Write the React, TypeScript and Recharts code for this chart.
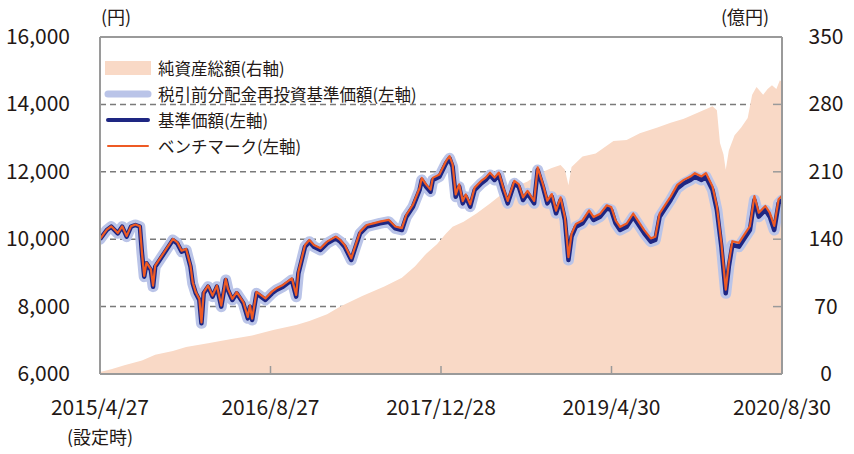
import React from 'react';
import {
  ComposedChart, Area, Line, XAxis, YAxis, CartesianGrid, ReferenceLine, Legend,
} from 'recharts';

// x positions: months elapsed since 2015/4/27 (設定日)
const xTickMonths = [0, 16, 32, 48, 64];
const xTickLabels = ['2015/4/27', '2016/8/27', '2017/12/28', '2019/4/30', '2020/8/30'];
const leftTicks = [6000, 8000, 10000, 12000, 14000, 16000];
const rightTicks = [0, 70, 140, 210, 280, 350];

const navMonths = [
  0, 0.64, 1.05, 1.67, 2.08, 2.5, 2.91, 3.32, 3.74, 3.94, 4.15, 4.36, 4.77, 4.98, 5.18, 5.6, 6.22, 6.84, 7.25, 7.66,
  8.08, 8.49, 8.7, 8.99, 9.32, 9.52, 9.73, 10.14, 10.56, 10.97, 11.38, 11.8, 12.01, 12.42, 12.83, 13.45, 13.87, 14.07, 14.28, 14.69,
  15.11, 15.52, 16.14, 16.55, 17.17, 18.0, 18.41, 18.62, 19.24, 19.65, 20.07, 20.69, 21.31, 22.13, 22.55, 22.96, 23.58, 23.99, 24.41, 25.03,
  25.65, 26.27, 27.09, 27.71, 28.33, 28.75, 29.37, 29.99, 30.19, 30.61, 31.02, 31.23, 31.85, 32.47, 32.8, 33.09, 33.38, 33.71, 34.04, 34.33,
  34.74, 35.16, 35.77, 36.19, 36.6, 37.02, 37.43, 37.84, 38.26, 38.88, 39.29, 39.7, 40.12, 40.74, 41.07, 41.56, 41.98, 42.39, 42.8, 43.22,
  43.63, 43.96, 44.25, 44.66, 45.28, 45.9, 46.32, 46.94, 47.56, 47.97, 48.38, 48.8, 49.42, 50.04, 50.45, 51.07, 51.69, 52.11, 52.52, 52.93,
  53.55, 54.17, 54.79, 55.41, 55.83, 56.45, 56.86, 57.48, 57.89, 58.31, 58.72, 59.01, 59.34, 59.96, 60.37, 60.99, 61.41, 61.82, 62.44, 62.85,
  63.27, 63.68, 64,
];

// 基準価額 (円)
const navValues = [
  10000, 10273, 10372, 10174, 10372, 10075, 10372, 10421, 10372, 9581, 8889, 9284, 9086, 8592, 9185, 9383, 9680, 9976, 9877, 9630,
  9680, 9185, 8691, 8394, 8196, 7504, 8394, 8592, 8295, 8592, 7998, 8790, 8493, 8196, 8394, 8097, 7652, 7998, 7603, 8394,
  8295, 8196, 8394, 8493, 8592, 8790, 8295, 8987, 9779, 9927, 9779, 9680, 9877, 10026, 9927, 9779, 9383, 9779, 10174, 10372,
  10421, 10471, 10520, 10323, 10273, 10669, 10965, 11460, 11757, 11559, 11410, 11757, 11856, 12251, 12399, 12152, 11262, 11559, 11064, 11262,
  10965, 11460, 11658, 11757, 11905, 11757, 11905, 11460, 11064, 11658, 11559, 11163, 11361, 11064, 12053, 11559, 11064, 11262, 10768, 11163,
  10570, 9383, 10075, 10372, 10471, 10768, 10570, 10669, 10916, 10867, 10471, 10273, 10372, 10669, 10471, 10174, 9927, 9976, 10669, 10867,
  11163, 11509, 11658, 11757, 11856, 11757, 11856, 11460, 10867, 9779, 8394, 9185, 9828, 9779, 9976, 10273, 11163, 10669, 10867, 10669,
  10273, 11064, 11163,
];

// 税引前分配金再投資基準価額 (円) — no distributions paid, identical to 基準価額
const reinvestValues = navValues;

// ベンチマーク (円)
const benchValues = [
  10000, 10283, 10382, 10184, 10382, 10090, 10387, 10436, 10387, 9596, 8910, 9305, 9110, 8620, 9215, 9413, 9710, 10006, 9907, 9660,
  9710, 9215, 8721, 8424, 8226, 7534, 8424, 8622, 8325, 8622, 8030, 8822, 8525, 8230, 8430, 8135, 7690, 8038, 7643, 8435,
  8340, 8243, 8444, 8543, 8642, 8840, 8345, 9037, 9829, 9977, 9829, 9730, 9927, 10076, 9977, 9829, 9433, 9829, 10224, 10422,
  10471, 10521, 10575, 10378, 10330, 10726, 11025, 11520, 11817, 11620, 11472, 11820, 11920, 12315, 12465, 12218, 11330, 11627, 11132, 11330,
  11035, 11530, 11728, 11827, 11975, 11827, 11977, 11532, 11136, 11732, 11633, 11238, 11436, 11140, 12130, 11636, 11142, 11340, 10848, 11243,
  10652, 9465, 10158, 10455, 10556, 10855, 10658, 10758, 11006, 10957, 10562, 10365, 10465, 10763, 10566, 10270, 10024, 10074, 10768, 10967,
  11264, 11611, 11760, 11860, 11960, 11862, 11962, 11567, 10975, 9888, 8504, 9296, 9940, 9892, 10090, 10388, 11280, 10786, 10985, 10788,
  10393, 11185, 11285,
];

// 純資産総額 (億円)
const assetMonths = [
  0, 1.05, 2.29, 3.94, 5.18, 6.84, 8.08, 10.14, 12.21, 14.28, 16.35, 18.41, 19.65, 21.31, 22.55, 24.61, 26.68, 28.33, 29.57, 30.61,
  31.64, 32.47, 33.09, 34.12, 35.36, 36.6, 37.84, 39.08, 40.12, 41.15, 42.39, 43.22, 43.63, 43.96, 44.25, 45.28, 46.52, 48.18, 49.42, 50.66,
  52.31, 53.55, 54.79, 56.03, 57.48, 57.89, 58.18, 58.51, 58.72, 59.01, 59.55, 60.17, 60.78, 61.2, 61.61, 62.23, 62.65, 63.06, 63.47, 63.8, 64,
];
const assetValues = [
  2, 5, 9, 14, 20, 24, 28, 32, 36, 40, 46, 51, 55, 62, 70, 81, 91, 100, 112, 125,
  135, 146, 153, 158, 167, 177, 188, 195, 200, 208, 214, 217, 212, 196, 215, 226, 229, 242, 243, 250,
  256, 261, 265, 271, 278, 274, 240, 228, 212, 232, 248, 256, 266, 290, 298, 290, 296, 300, 296, 305, 303,
];

const navData = navMonths.map((m, i) => ({
  m, nav: navValues[i], reinvest: reinvestValues[i], bench: benchValues[i],
}));
const assetData = assetMonths.map((m, i) => ({ m, assets: assetValues[i] }));

const FONT = '"Noto Sans CJK JP", "Noto Sans", sans-serif';
const AXIS = '#9a9a9a';
const TXT = '#231815';

const COLORS = {
  assets: '#F9D9C6',
  reinvest: '#BAC4E8',
  nav: '#1E2682',
  bench: '#EE5A24',
};

const XTick = (props: any) => {
  const { x, y, payload, index } = props;
  const i = xTickMonths.indexOf(payload.value);
  return (
    <g>
      {index > 0 && index < xTickMonths.length - 1 && (
        <line x1={x} x2={x} y1={y} y2={y - 8} stroke={AXIS} strokeWidth={1.5} />
      )}
      <text x={x} y={y + 41} textAnchor="middle" fontSize={21} fill={TXT} fontFamily={FONT}>
        {xTickLabels[i]}
      </text>
      {i === 0 && (
        <text x={x} y={y + 70} textAnchor="middle" fontSize={18} fill={TXT} fontFamily={FONT}>
          (設定時)
        </text>
      )}
    </g>
  );
};

const LeftTick = (props: any) => {
  const { x, y, payload } = props;
  return (
    <text x={x - 30} y={y + 7} textAnchor="end" fontSize={21} fill={TXT} fontFamily={FONT}>
      {payload.value.toLocaleString('en-US')}
    </text>
  );
};

const RightTick = (props: any) => {
  const { x, y, payload, index } = props;
  return (
    <g>
      {index > 0 && index < rightTicks.length - 1 && (
        <line x1={x} x2={x - 9} y1={y} y2={y} stroke={AXIS} strokeWidth={1.5} />
      )}
      <text x={x + 44} y={y + 7} textAnchor="middle" fontSize={21} fill={TXT} fontFamily={FONT}>
        {payload.value}
      </text>
    </g>
  );
};

const legendItems = [
  { key: 'assets', label: '純資産総額(右軸)' },
  { key: 'reinvest', label: '税引前分配金再投資基準価額(左軸)' },
  { key: 'nav', label: '基準価額(左軸)' },
  { key: 'bench', label: 'ベンチマーク(左軸)' },
];

const Swatch = ({ k }: { k: string }) => {
  if (k === 'assets') {
    return <svg width={48} height={20}><rect x={1} y={3} width={46} height={14} fill={COLORS.assets} /></svg>;
  }
  const w = k === 'reinvest' ? 7 : k === 'nav' ? 4 : 2;
  const c = (COLORS as any)[k];
  return (
    <svg width={48} height={20}>
      <line x1={4} x2={44} y1={10} y2={10} stroke={c} strokeWidth={w} strokeLinecap="round" />
    </svg>
  );
};

const renderLegend = () => (
  <div style={{ fontFamily: FONT, fontSize: 16.5, color: TXT }}>
    {legendItems.map((it) => (
      <div key={it.key} style={{ display: 'flex', alignItems: 'center', height: 26, whiteSpace: 'nowrap' }}>
        <Swatch k={it.key} />
        <span style={{ marginLeft: 6 }}>{it.label}</span>
      </div>
    ))}
  </div>
);

export default function App() {
  return (
    <div style={{ position: 'absolute', left: 0, top: 0, width: 854, height: 454, background: '#fff', fontFamily: FONT }}>
      <div style={{ position: 'absolute', left: 101, top: 3, fontSize: 18, color: TXT }}>(円)</div>
      <div style={{ position: 'absolute', left: 721, top: 3, fontSize: 18, color: TXT }}>(億円)</div>
      <ComposedChart
        width={854}
        height={454}
        margin={{ top: 37, right: 0, bottom: 0, left: 0 }}
        style={{ position: 'absolute', left: 0, top: 0 }}
      >
        <CartesianGrid
          yAxisId="left"
          vertical={false}
          horizontalValues={[8000, 10000, 12000, 14000]}
          stroke="#7a7a7a"
          strokeWidth={1.5}
          strokeDasharray="6 4"
        />
        <XAxis
          type="number"
          dataKey="m"
          domain={[0, 64]}
          ticks={xTickMonths}
          allowDataOverflow
          height={80}
          tickSize={0}
          tickMargin={0}
          axisLine={{ stroke: AXIS, strokeWidth: 2 }}
          tickLine={false}
          tick={<XTick />}
          interval={0}
        />
        <YAxis
          yAxisId="left"
          orientation="left"
          domain={[6000, 16000]}
          ticks={leftTicks}
          width={100}
          tickSize={0}
          tickMargin={0}
          axisLine={{ stroke: AXIS, strokeWidth: 2 }}
          tickLine={false}
          tick={<LeftTick />}
          interval={0}
        />
        <YAxis
          yAxisId="right"
          orientation="right"
          domain={[0, 350]}
          ticks={rightTicks}
          width={72}
          tickSize={0}
          tickMargin={0}
          axisLine={{ stroke: AXIS, strokeWidth: 2 }}
          tickLine={false}
          tick={<RightTick />}
          interval={0}
        />
        <Area
          yAxisId="right"
          data={assetData}
          dataKey="assets"
          type="linear"
          stroke="none"
          fill={COLORS.assets}
          fillOpacity={1}
          isAnimationActive={false}
        />
        <Line
          yAxisId="left"
          data={navData}
          dataKey="reinvest"
          type="linear"
          stroke={COLORS.reinvest}
          strokeWidth={11}
          strokeLinejoin="round"
          strokeLinecap="round"
          dot={false}
          activeDot={false}
          isAnimationActive={false}
        />
        <Line
          yAxisId="left"
          data={navData}
          dataKey="nav"
          type="linear"
          stroke={COLORS.nav}
          strokeWidth={4.5}
          strokeLinejoin="round"
          dot={false}
          activeDot={false}
          isAnimationActive={false}
        />
        <Line
          yAxisId="left"
          data={navData}
          dataKey="bench"
          type="linear"
          stroke={COLORS.bench}
          strokeWidth={2.2}
          strokeLinejoin="round"
          dot={false}
          activeDot={false}
          isAnimationActive={false}
        />
        <ReferenceLine yAxisId="left" y={16000} stroke={AXIS} strokeWidth={2} />
        <Legend
          layout="vertical"
          verticalAlign="middle"
          align="center"
          content={renderLegend}
          wrapperStyle={{ position: 'absolute', left: 104, top: 55, width: 'auto', height: 'auto' }}
        />
      </ComposedChart>
    </div>
  );
}
